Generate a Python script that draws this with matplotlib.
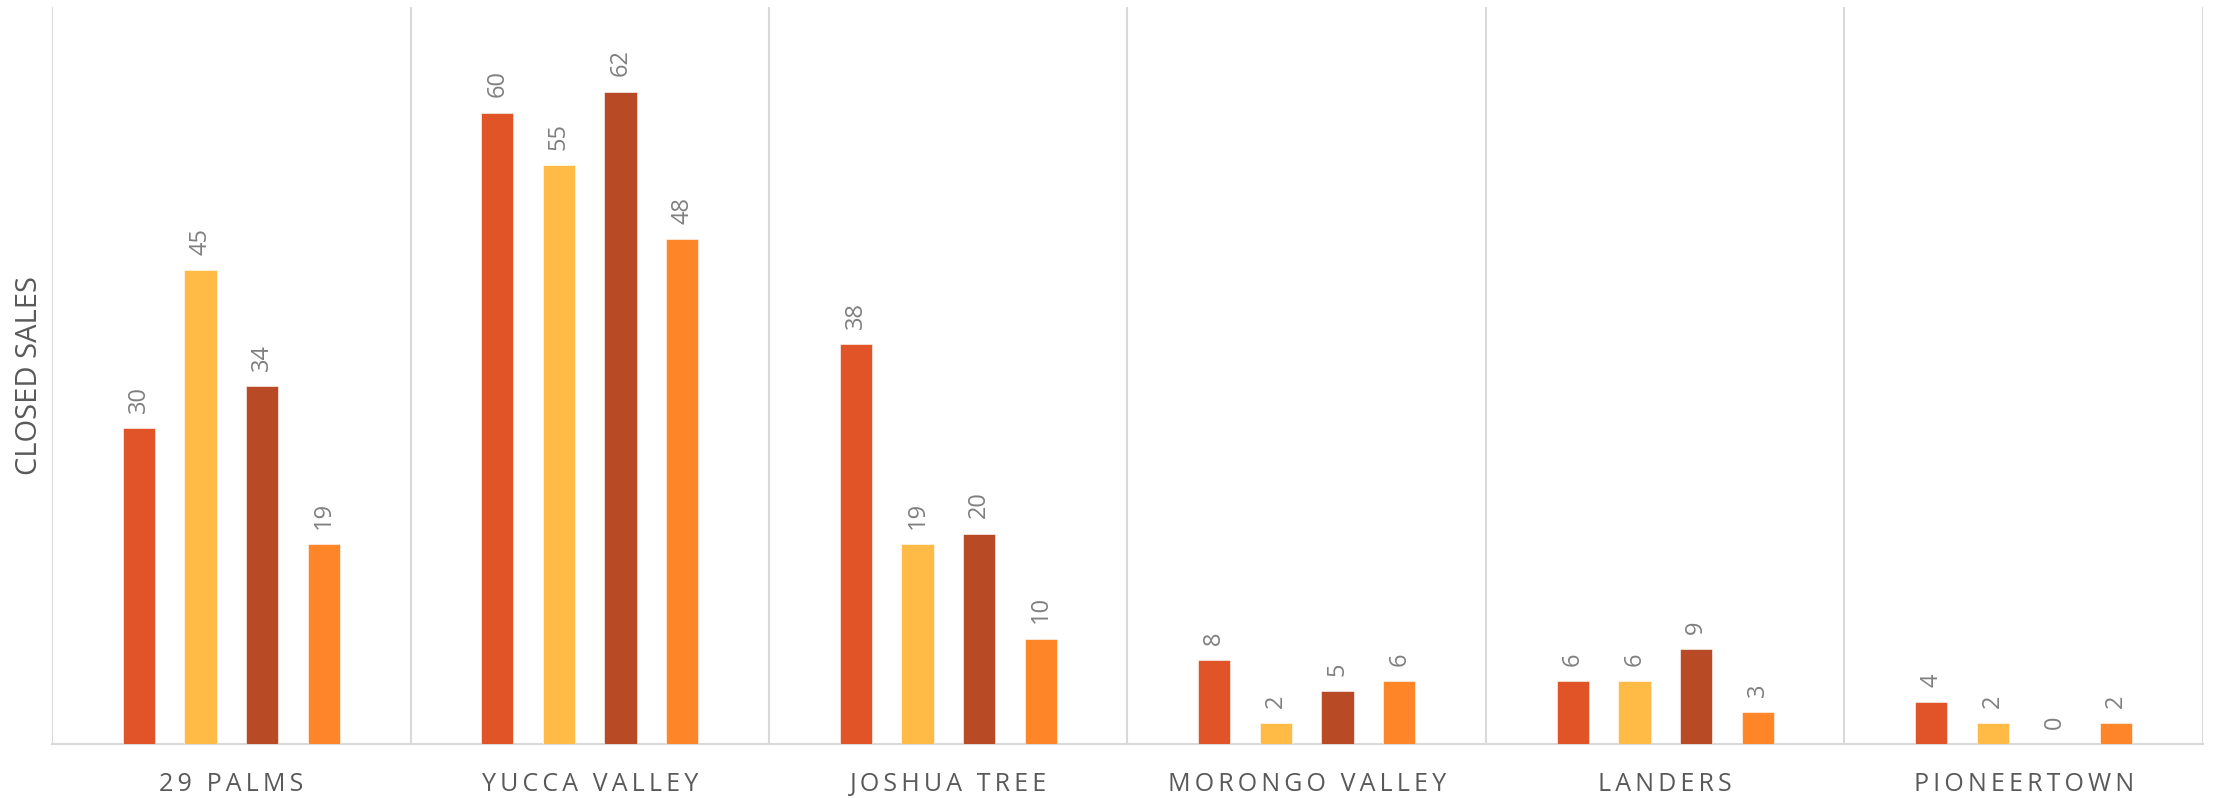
import matplotlib
matplotlib.use("Agg")
import matplotlib.pyplot as plt
import numpy as np

categories = ["29 PALMS", "YUCCA VALLEY", "JOSHUA TREE", "MORONGO VALLEY", "LANDERS", "PIONEERTOWN"]
series_a = [30, 60, 38, 8, 6, 4]
series_b = [45, 55, 19, 2, 6, 2]
series_c = [34, 62, 20, 5, 9, 0]
series_d = [19, 48, 10, 6, 3, 2]
colors = ["#E05428", "#FFBB45", "#B84A26", "#FF8628"]

plt.rcParams['font.family'] = ['Open Sans', 'DejaVu Sans']

fig = plt.figure(figsize=(22.14, 7.98), dpi=100)
ax = fig.add_axes([0.0235, 0.0677, 0.9715, 0.923])

x = np.arange(len(categories))
offsets = [-0.258, -0.086, 0.086, 0.258]
width = 0.09
for s, off, c in zip([series_a, series_b, series_c, series_d], offsets, colors):
    bars = ax.bar(x + off, s, width=width, color=c, edgecolor="white", linewidth=0.4, zorder=3)
    ax.bar_label(bars, labels=[str(v) for v in s], rotation=90, padding=11,
                 fontsize=17, color="#7F7F7F")

ax.set_xlim(-0.5, len(categories) - 0.5)
ax.set_ylim(0, 70)

for b in np.arange(-0.5, len(categories), 1.0):
    ax.axvline(b, color="#D9D9D9", linewidth=1.5, zorder=1)

for sp in ["top", "right", "left"]:
    ax.spines[sp].set_visible(False)
ax.spines["bottom"].set_color("#D9D9D9")
ax.spines["bottom"].set_linewidth(1.5)

ax.set_yticks([])
ax.set_xticks(x)
spaced = ["\u2009".join(list(c)) for c in categories]
ax.set_xticklabels(spaced, fontsize=18, color="#595959")
ax.tick_params(axis="x", length=0, pad=20)

fig.text(0.0135, 0.5 * (0.0677 + 0.991), "CLOSED SALES", rotation=90, fontsize=21,
         color="#595959", ha="center", va="center")

fig.savefig("out.png", dpi=100)
